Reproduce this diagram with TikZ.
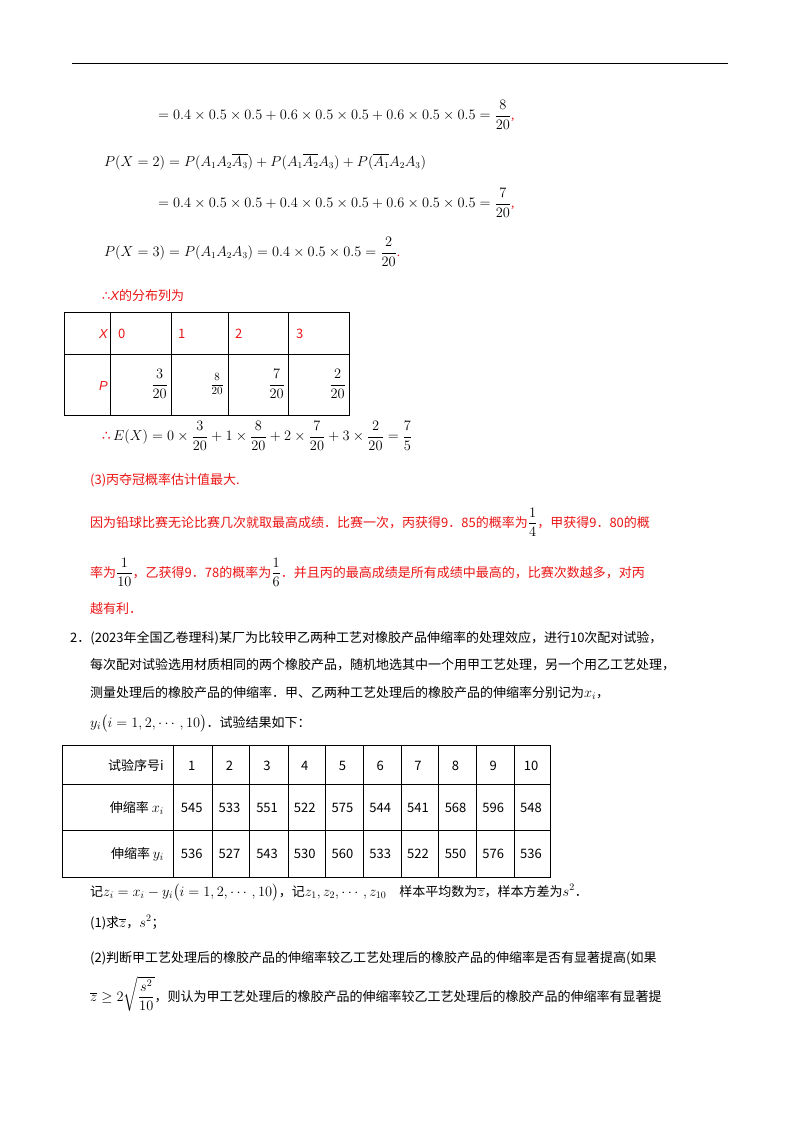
\documentclass[tikz,border=0pt]{standalone}
\usepackage{fontspec}
\usepackage{amsmath}
\setmainfont{Liberation Serif}
\newfontfamily\cjk{Noto Sans CJK SC}
\newfontfamily\sym{DejaVu Sans}
\newfontfamily\itsans{Liberation Sans}
\definecolor{rd}{RGB}{235,20,20}
\newcommand\mbig[1]{{\fontsize{14.5}{16}\selectfont$#1$}}
\begin{document}
\begin{tikzpicture}[x=1pt,y=-1pt,
  t/.style={anchor=base west,inner sep=0pt,font=\cjk\fontsize{13}{15}\selectfont},
  m/.style={anchor=west,inner sep=0pt,font=\fontsize{13.5}{16}\selectfont},
  r/.style={t,text=rd},
  grid/.style={line width=0.8pt}]
\useasboundingbox (0,0) rectangle (800,1132);
\draw[line width=0.8pt] (72,63) -- (728,63);
\node[m] (l1) at (158,115) {$\displaystyle =0.4\times0.5\times0.5+0.6\times0.5\times0.5+0.6\times0.5\times0.5=\frac{8}{20}$\textcolor{rd}{,}};
\node[m] (l2) at (104,162) {$P(X=2)=P(A_1A_2\overline{A_3})+P(A_1\overline{A_2}A_3)+P(\overline{A_1}A_2A_3)$};
\node[m] (l3) at (158,203) {$\displaystyle =0.4\times0.5\times0.5+0.4\times0.5\times0.5+0.6\times0.5\times0.5=\frac{7}{20}$\textcolor{rd}{,}};
\node[m] (l4) at (104,252) {$\displaystyle P(X=3)=P(A_1A_2A_3)=0.4\times0.5\times0.5=\frac{2}{20}$\textcolor{rd}{.}};
\node[r] (l5) at (102,300) {{\sym ∴}{\itsans\itshape X}的分布列为};
% table 1
\draw[grid] (64,312) rectangle (349,415);
\draw[grid] (64,354) -- (349,354);
\foreach \x in {110,171,228,288} \draw[grid] (\x,312) -- (\x,415);
\node[r,anchor=base east] (tX) at (108,338) {\itsans\itshape X};
\node[r] (t0) at (118,338) {0};
\node[r] (t1) at (178,338) {1};
\node[r] (t2) at (235,338) {2};
\node[r] (t3) at (296,338) {3};
\node[r,anchor=base east] (tP) at (108,390) {\itsans\itshape P};
\node[m,anchor=east] (f0) at (168,384) {$\displaystyle\frac{3}{20}$};
\node[m,anchor=east,font=\fontsize{11}{12}\selectfont] (f1) at (224,384) {$\displaystyle\frac{8}{20}$};
\node[m,anchor=east] (f2) at (285,384) {$\displaystyle\frac{7}{20}$};
\node[m,anchor=east] (f3) at (346,384) {$\displaystyle\frac{2}{20}$};
\node[m] (ex) at (102,436) {\textcolor{rd}{\sym ∴}\,$\displaystyle E(X)=0\times\frac{3}{20}+1\times\frac{8}{20}+2\times\frac{7}{20}+3\times\frac{2}{20}=\frac{7}{5}$};
\node[r] (p3) at (90,484) {(3)丙夺冠概率估计值最大.};
\node[r] (p4) at (90,527) {因为铅球比赛无论比赛几次就取最高成绩．比赛一次，丙获得9．85的概率为\textcolor{black}{\mbig{\displaystyle\frac{1}{4}}}，甲获得9．80的概};
\node[r] (p5) at (90,577) {率为\textcolor{black}{\mbig{\displaystyle\frac{1}{10}}}，乙获得9．78的概率为\textcolor{black}{\mbig{\displaystyle\frac{1}{6}}}．并且丙的最高成绩是所有成绩中最高的，比赛次数越多，对丙};
\node[r] (p6) at (90,613) {越有利．};
\node[t] (q1) at (70,642) {2．(2023年全国乙卷理科)某厂为比较甲乙两种工艺对橡胶产品伸缩率的处理效应，进行10次配对试验，};
\node[t] (q2) at (90,669) {每次配对试验选用材质相同的两个橡胶产品，随机地选其中一个用甲工艺处理，另一个用乙工艺处理，};
\node[t] (q3) at (90,697) {测量处理后的橡胶产品的伸缩率．甲、乙两种工艺处理后的橡胶产品的伸缩率分别记为\mbig{x_i}，};
\node[t] (q4) at (90,727) {\mbig{y_i\bigl(i=1,2,\cdots,10\bigr)}．试验结果如下：};
% table 2
\draw[grid] (62,745) rectangle (550,877);
\draw[grid] (62,784) -- (550,784);
\draw[grid] (62,830) -- (550,830);
\foreach \x in {173,212,249,288,325,363,401,438,476,514} \draw[grid] (\x,745) -- (\x,877);
\node[t,anchor=base east] (h0) at (164,770) {试验序号i};
\node[t,anchor=base east] (h1) at (164,812) {伸缩率 \mbig{x_i}};
\node[t,anchor=base east] (h2) at (164,858) {伸缩率 \mbig{y_i}};
\foreach [count=\k] \a/\b/\c in {1/545/536,2/533/527,3/551/543,4/522/530,5/575/560,6/544/533,7/541/522,8/568/550,9/596/576,10/548/536}{
  \node[t,anchor=base] (c\k) at ({154+37.7*\k},770) {\a};
  \node[t,anchor=base] (d\k) at ({154+37.7*\k},812) {\b};
  \node[t,anchor=base] (e\k) at ({154+37.7*\k},858) {\c};
}
\node[t] (z1) at (90,896) {记\mbig{z_i=x_i-y_i\bigl(i=1,2,\cdots,10\bigr)}，记\mbig{z_1,z_2,\cdots,z_{10}}\quad 样本平均数为\mbig{\overline{z}}，样本方差为\mbig{s^2}．};
\node[t] (z2) at (90,927) {(1)求\mbig{\overline{z}}，\mbig{s^2}；};
\node[t] (z3) at (90,962) {(2)判断甲工艺处理后的橡胶产品的伸缩率较乙工艺处理后的橡胶产品的伸缩率是否有显著提高(如果};
\node[t] (z4) at (90,1001) {\mbig{\overline{z}\ge2\sqrt{\dfrac{s^2}{10}}}，则认为甲工艺处理后的橡胶产品的伸缩率较乙工艺处理后的橡胶产品的伸缩率有显著提};
\end{tikzpicture}
\end{document}
